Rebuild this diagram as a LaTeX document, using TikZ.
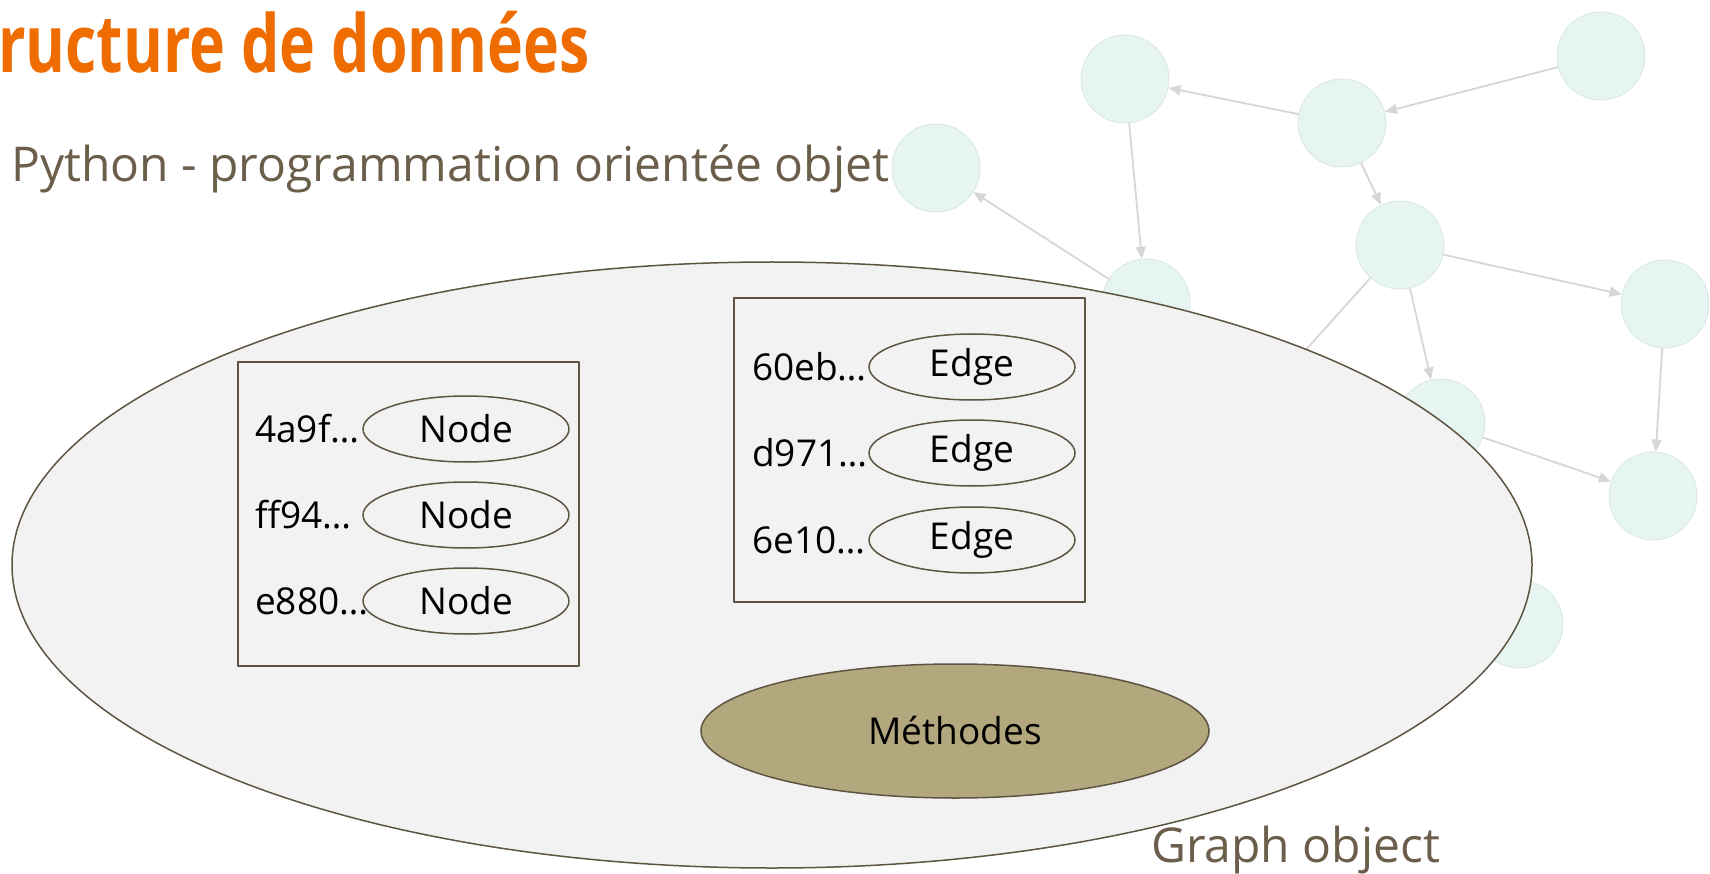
\documentclass[tikz,border=0pt]{standalone}
\usepackage{fontspec}
\setmainfont{Open Sans}
\newfontfamily\titrefont[FakeStretch=0.76]{Open Sans}
\usepackage{tikz}
\usetikzlibrary{arrows.meta,shapes.geometric}
\definecolor{orangetitre}{HTML}{EF6C00}
\definecolor{brunligne}{HTML}{5E5442}
\definecolor{bruntexte}{HTML}{6B5E4A}
\definecolor{grisfond}{HTML}{F2F2F2}
\definecolor{kaki}{HTML}{B3A77E}
\definecolor{menthe}{HTML}{E6F5F2}
\definecolor{mentheb}{HTML}{DDE9E6}
\definecolor{grisarc}{HTML}{D6D6D6}

\begin{document}
\begin{tikzpicture}[x=1pt,y=-1pt,line cap=round,line join=round,
		sommet/.style={circle,fill=menthe,draw=mentheb,line width=1pt,minimum size=88pt,inner sep=0pt},
		lien/.style={draw=grisarc,line width=1.8pt,-{Triangle[length=12pt,width=10pt]}},
		objet/.style={ellipse,draw=brunligne,fill=grisfond,line width=1.5pt,minimum width=1520pt,minimum height=606pt},
		boite/.style={rectangle,draw=brunligne,line width=1.5pt},
		cle/.style={ellipse,draw=brunligne,line width=1.5pt,minimum width=206pt,minimum height=66pt,font=\fontsize{37}{44}\selectfont},
		ident/.style={anchor=base west,inner sep=0pt,font=\fontsize{37}{44}\selectfont},
		methodes/.style={ellipse,draw=brunligne,fill=kaki,line width=1.5pt,minimum width=508pt,minimum height=134pt,font=\fontsize{37}{44}\selectfont}]
					\useasboundingbox (0,0) rectangle (1710,874);
					
					\node[sommet] (s1) at (936,168) {};
					\node[sommet] (s2) at (1125,79) {};
					\node[sommet] (s3) at (1342,123) {};
					\node[sommet] (s4) at (1601,56) {};
					\node[sommet] (s5) at (1400,245) {};
					\node[sommet] (s6) at (1146,303) {};
					\node[sommet] (s7) at (1665,304) {};
					\node[sommet] (s8) at (1441,423) {};
					\node[sommet] (s9) at (1653,496) {};
					\node[sommet] (s10) at (1519,624) {};
					
					\coordinate (cache) at (1214,452);
					
					\draw[lien] (s3) -- (s2);
					\draw[lien] (s4) -- (s3);
					\draw[lien] (s2) -- (s6);
					\draw[lien] (s6) -- (s1);
					\draw[lien] (s3) -- (s5);
					\draw[lien] (s5) -- (s7);
					\draw[lien] (s5) -- (s8);
					\draw[draw=grisarc,line width=1.8pt] (s5) -- (cache);
					\draw[lien] (s8) -- (s9);
					\draw[lien] (s7) -- (s9);
					
					\node[objet] (graphe) at (772,565) {};
					
					\node[boite,minimum width=341pt,minimum height=304pt] (noeuds) at (408.5,514) {};
					
					\node[boite,minimum width=351pt,minimum height=304pt] (aretes) at (909.5,450) {};
					
					\foreach \h/\y [count=\i] in {4a9f/429,ff94/515,e880/601}{
						\node[cle] (n\i) at (466,\y) {Node};
						\node[ident] (in\i) at (255,\y+13) {\h…};
					}
					
					\foreach \h/\y [count=\i] in {60eb/367,d971/453,6e10/540}{
						\node[cle] (e\i) at (972,\y) {Edge};
						\node[ident] (ie\i) at (752,\y+13) {\h…};
					}
					
					\node[methodes] (meth) at (955,731) {Méthodes};
					
					\node[anchor=base west,inner sep=0pt,text=orangetitre,font=\titrefont\bfseries\fontsize{80}{96}\selectfont] (titre) at (-2,73) {ructure de données};
					
					\node[anchor=base west,inner sep=0pt,text=bruntexte,font=\fontsize{48}{58}\selectfont] (sous) at (11,182) {Python - programmation orientée objet};
					
					\node[anchor=base west,inner sep=0pt,text=bruntexte,font=\fontsize{48}{58}\selectfont] (nom) at (1151,862) {Graph object};
				\end{tikzpicture}
\end{document}
